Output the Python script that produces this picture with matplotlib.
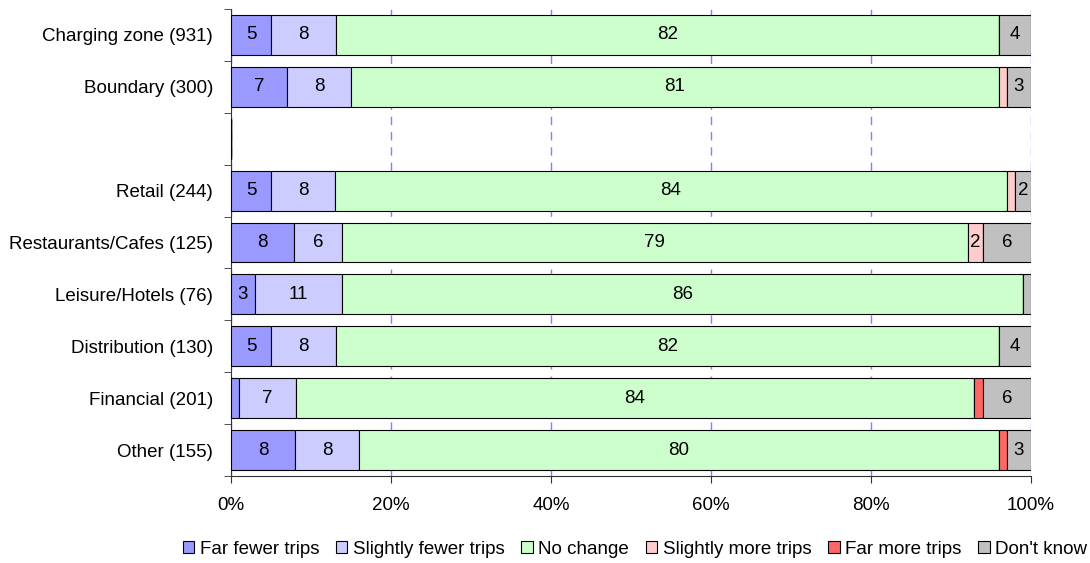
import matplotlib
matplotlib.use("Agg")
import matplotlib.pyplot as plt
import numpy as np
from matplotlib.ticker import FixedLocator, PercentFormatter

plt.rcParams['font.family'] = ['Liberation Sans', 'DejaVu Sans']

categories = ["Charging zone (931)", "Boundary (300)", "", "Retail (244)",
              "Restaurants/Cafes (125)", "Leisure/Hotels (76)",
              "Distribution (130)", "Financial (201)", "Other (155)"]
series_names = ["Far fewer trips", "Slightly fewer trips", "No change",
                "Slightly more trips", "Far more trips", "Don't know"]
far_fewer = [5, 7, 0, 5, 8, 3, 5, 1, 8]
slightly_fewer = [8, 8, 0, 8, 6, 11, 8, 7, 8]
no_change = [82, 81, 0, 84, 79, 86, 82, 84, 80]
slightly_more = [0, 1, 0, 1, 2, 0, 0, 0, 0]
far_more = [0, 0, 0, 0, 0, 0, 0, 1, 1]
dont_know = [4, 3, 0, 2, 6, 1, 4, 6, 3]

colors = ["#9999FF", "#CCCCFF", "#CCFFCC", "#FFCCCC", "#FF6666", "#C0C0C0"]

data = np.array([far_fewer, slightly_fewer, no_change, slightly_more,
                 far_more, dont_know], dtype=float)
totals = data.sum(axis=0)
totals[totals == 0] = 1
shares = data / totals * 100  # 100% stacked, like the original

fs = 13.5
fig = plt.figure(figsize=(10.9, 5.63), dpi=100)
ax = fig.add_axes([231 / 1090, 1 - 476 / 563, 800 / 1090, 467 / 563])

y = np.arange(len(categories))
left = np.zeros(len(categories))
for i, name in enumerate(series_names):
    ax.barh(y, shares[i], left=left, height=0.77, color=colors[i],
            edgecolor="black", linewidth=0.8, label=name, zorder=3)
    for j in range(len(categories)):
        if data[i, j] >= 2:
            ax.text(left[j] + shares[i, j] / 2, y[j], f"{int(data[i, j])}",
                    ha="center", va="center", fontsize=fs, zorder=4)
    left += shares[i]

ax.set_xlim(0, 100)
ax.set_ylim(len(categories) - 0.5, -0.5)
ax.set_yticks(y)
ax.set_yticklabels(categories, fontsize=fs)
ax.yaxis.set_minor_locator(FixedLocator(np.arange(-0.5, len(categories), 1)))
ax.tick_params(axis="y", which="major", length=0, pad=13)
ax.tick_params(axis="y", which="minor", length=5, direction="out", color="#333333")
ax.set_xticks(np.arange(0, 101, 20))
ax.xaxis.set_major_formatter(PercentFormatter(decimals=0))
ax.tick_params(axis="x", length=5, direction="out", color="#333333", labelsize=fs, pad=10)

ax.grid(axis="x", color="#A070FF", linestyle=(0, (6, 5)), linewidth=1.0, zorder=0)
for side in ["top", "right"]:
    ax.spines[side].set_visible(False)
for side in ["left", "bottom"]:
    ax.spines[side].set_color("#333333")

handles, labels = ax.get_legend_handles_labels()
fig.legend(handles, labels, loc="center", bbox_to_anchor=(635 / 1090, 1 - 549 / 563),
           ncol=6, frameon=False, fontsize=fs, handlelength=0.6, handleheight=0.6,
           handletextpad=0.3, columnspacing=0.9)

fig.savefig("out.png", dpi=100)
